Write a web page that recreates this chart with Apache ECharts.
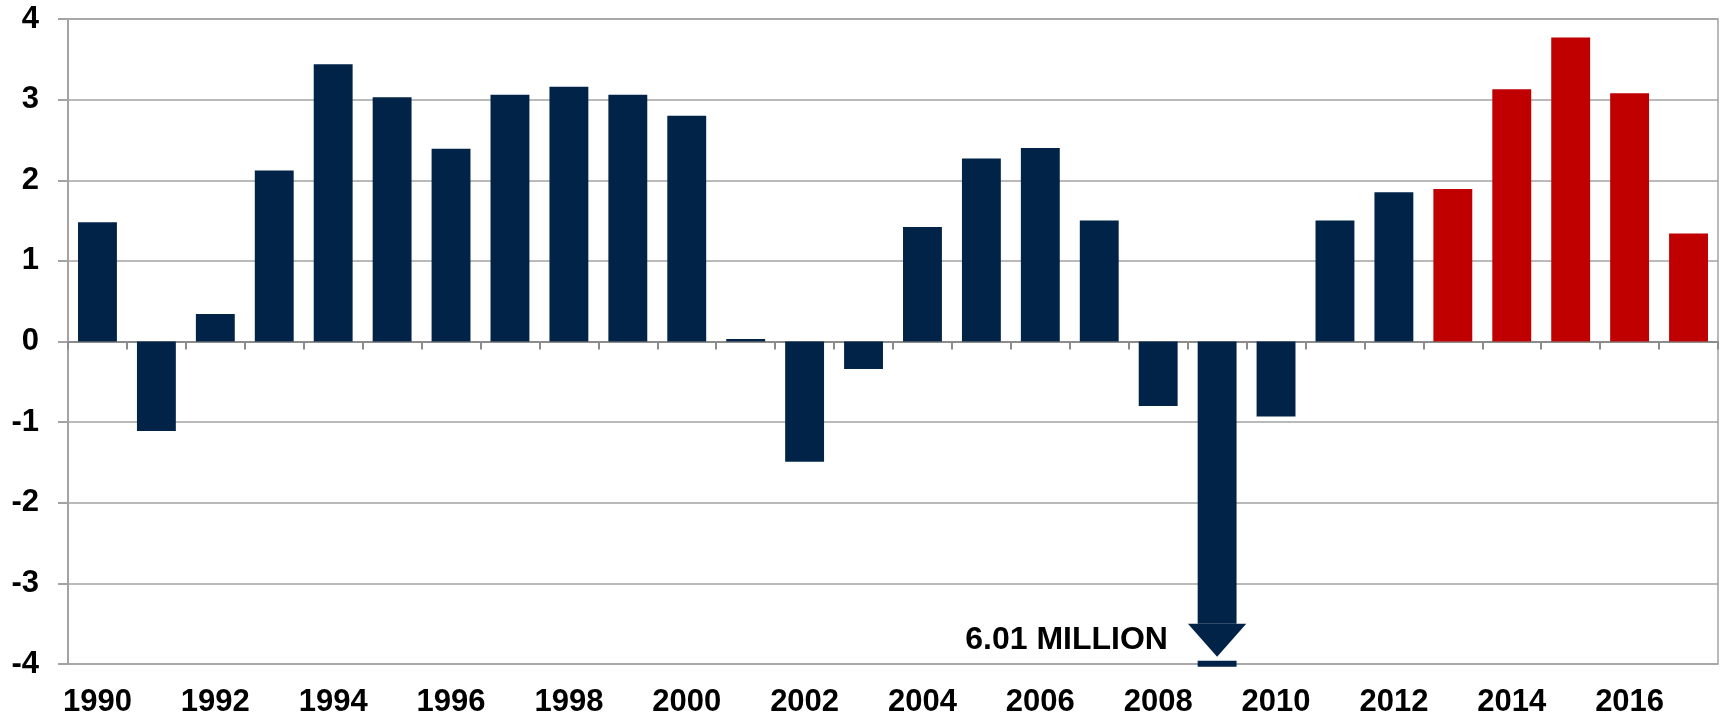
<!DOCTYPE html>
<html>
<head>
<meta charset="utf-8">
<script src="https://cdn.jsdelivr.net/npm/echarts@6/dist/echarts.min.js"></script>
<style>
html,body{margin:0;padding:0;background:#fff;}
#chart{width:1721px;height:718px;}
</style>
</head>
<body>
<div id="chart"></div>
<script>
// ---- data ----
const years = ['1990','1991','1992','1993','1994','1995','1996','1997','1998','1999',
  '2000','2001','2002','2003','2004','2005','2006','2007','2008','2009',
  '2010','2011','2012','2013','2014','2015','2016','2017'];
const values = [1.48,-1.11,0.34,2.12,3.44,3.03,2.39,3.06,3.16,3.06,
  2.80,0.03,-1.49,-0.34,1.42,2.27,2.40,1.50,-0.80,-6.01,
  -0.93,1.50,1.85,1.89,3.13,3.77,3.08,1.34];
const highlightYears = ['2013','2014','2015','2016','2017'];
const yTicks = [-4,-3,-2,-1,0,1,2,3,4];

const NAVY = '#022348';
const RED = '#C00000';
const GRID = '#a3a3a3';
const yMin = yTicks[0], yMax = yTicks[yTicks.length - 1];

// bars that fit in the axis range vs. off-scale bars (drawn as arrows)
const barData = values.map((v, i) => ({
  value: (v < yMin || v > yMax) ? '-' : v,
  itemStyle: { color: highlightYears.includes(years[i]) ? RED : NAVY }
}));
const offScale = [];
values.forEach((v, i) => { if (v < yMin || v > yMax) offScale.push([i, v]); });

const chart = echarts.init(document.getElementById('chart'), null, { renderer: 'canvas' });
const labelFont = { fontFamily: '"Liberation Sans", Arial, sans-serif', fontWeight: 'bold', fontSize: 31, color: '#000' };

chart.setOption({
  animation: false,
  grid: { left: 68, right: 3, top: 19, bottom: 53, show: true, borderColor: GRID, borderWidth: 1.5 },
  xAxis: [
    {
      type: 'category', data: years, position: 'bottom',
      axisLine: { onZero: true, lineStyle: { color: '#8c8c8c', width: 2 } },
      axisTick: { show: true, length: 8, interval: 0, lineStyle: { color: '#8c8c8c', width: 2 } },
      axisLabel: { show: false },
      splitLine: { show: false }
    },
    {
      type: 'category', data: years, position: 'bottom',
      axisLine: { show: false, onZero: false },
      axisTick: { show: false },
      axisLabel: Object.assign({ interval: 1, margin: 23 }, labelFont),
      splitLine: { show: false }
    }
  ],
  yAxis: {
    type: 'value', min: yMin, max: yMax, interval: 1,
    axisLine: { show: true, lineStyle: { color: GRID, width: 2 } },
    axisTick: { show: true, length: 10, lineStyle: { color: GRID, width: 2 } },
    axisLabel: Object.assign({ margin: 29 }, labelFont),
    splitLine: { show: true, lineStyle: { color: GRID, width: 1.5 } }
  },
  series: [
    {
      type: 'bar', xAxisIndex: 0, data: barData, barWidth: '66%',
      itemStyle: { borderWidth: 0 }
    },
    {
      type: 'custom', xAxisIndex: 0, data: offScale, clip: false, z: 3,
      renderItem: function (params, api) {
        const idx = api.value(0);
        const v = api.value(1);
        const bw = api.size([1, 0])[0] * 0.66;
        const p0 = api.coord([idx, 0]);
        const pHead = api.coord([idx, yMin + 0.5]);
        const pTip = api.coord([idx, yMin + 0.09]);
        const pStubTop = api.coord([idx, yMin + 0.04]);
        const pStubBot = api.coord([idx, yMin - 0.035]);
        const pText = api.coord([idx, yMin + 0.29]);
        const cx = p0[0];
        const hw = bw * 0.75;
        return {
          type: 'group',
          children: [
            { type: 'rect', shape: { x: cx - bw / 2, y: p0[1], width: bw, height: pHead[1] - p0[1] }, style: { fill: NAVY } },
            { type: 'polygon', shape: { points: [[cx - hw, pHead[1]], [cx + hw, pHead[1]], [cx, pTip[1]]] }, style: { fill: NAVY } },
            { type: 'rect', shape: { x: cx - bw / 2, y: pStubTop[1], width: bw, height: pStubBot[1] - pStubTop[1] }, style: { fill: NAVY } },
            { type: 'text', x: cx - hw - 20, y: pText[1],
              style: { text: Math.abs(v).toFixed(2) + ' MILLION', align: 'right', verticalAlign: 'middle',
                font: 'bold 32px "Liberation Sans", Arial, sans-serif', fill: '#000' } }
          ]
        };
      }
    }
  ]
});
</script>
</body>
</html>
